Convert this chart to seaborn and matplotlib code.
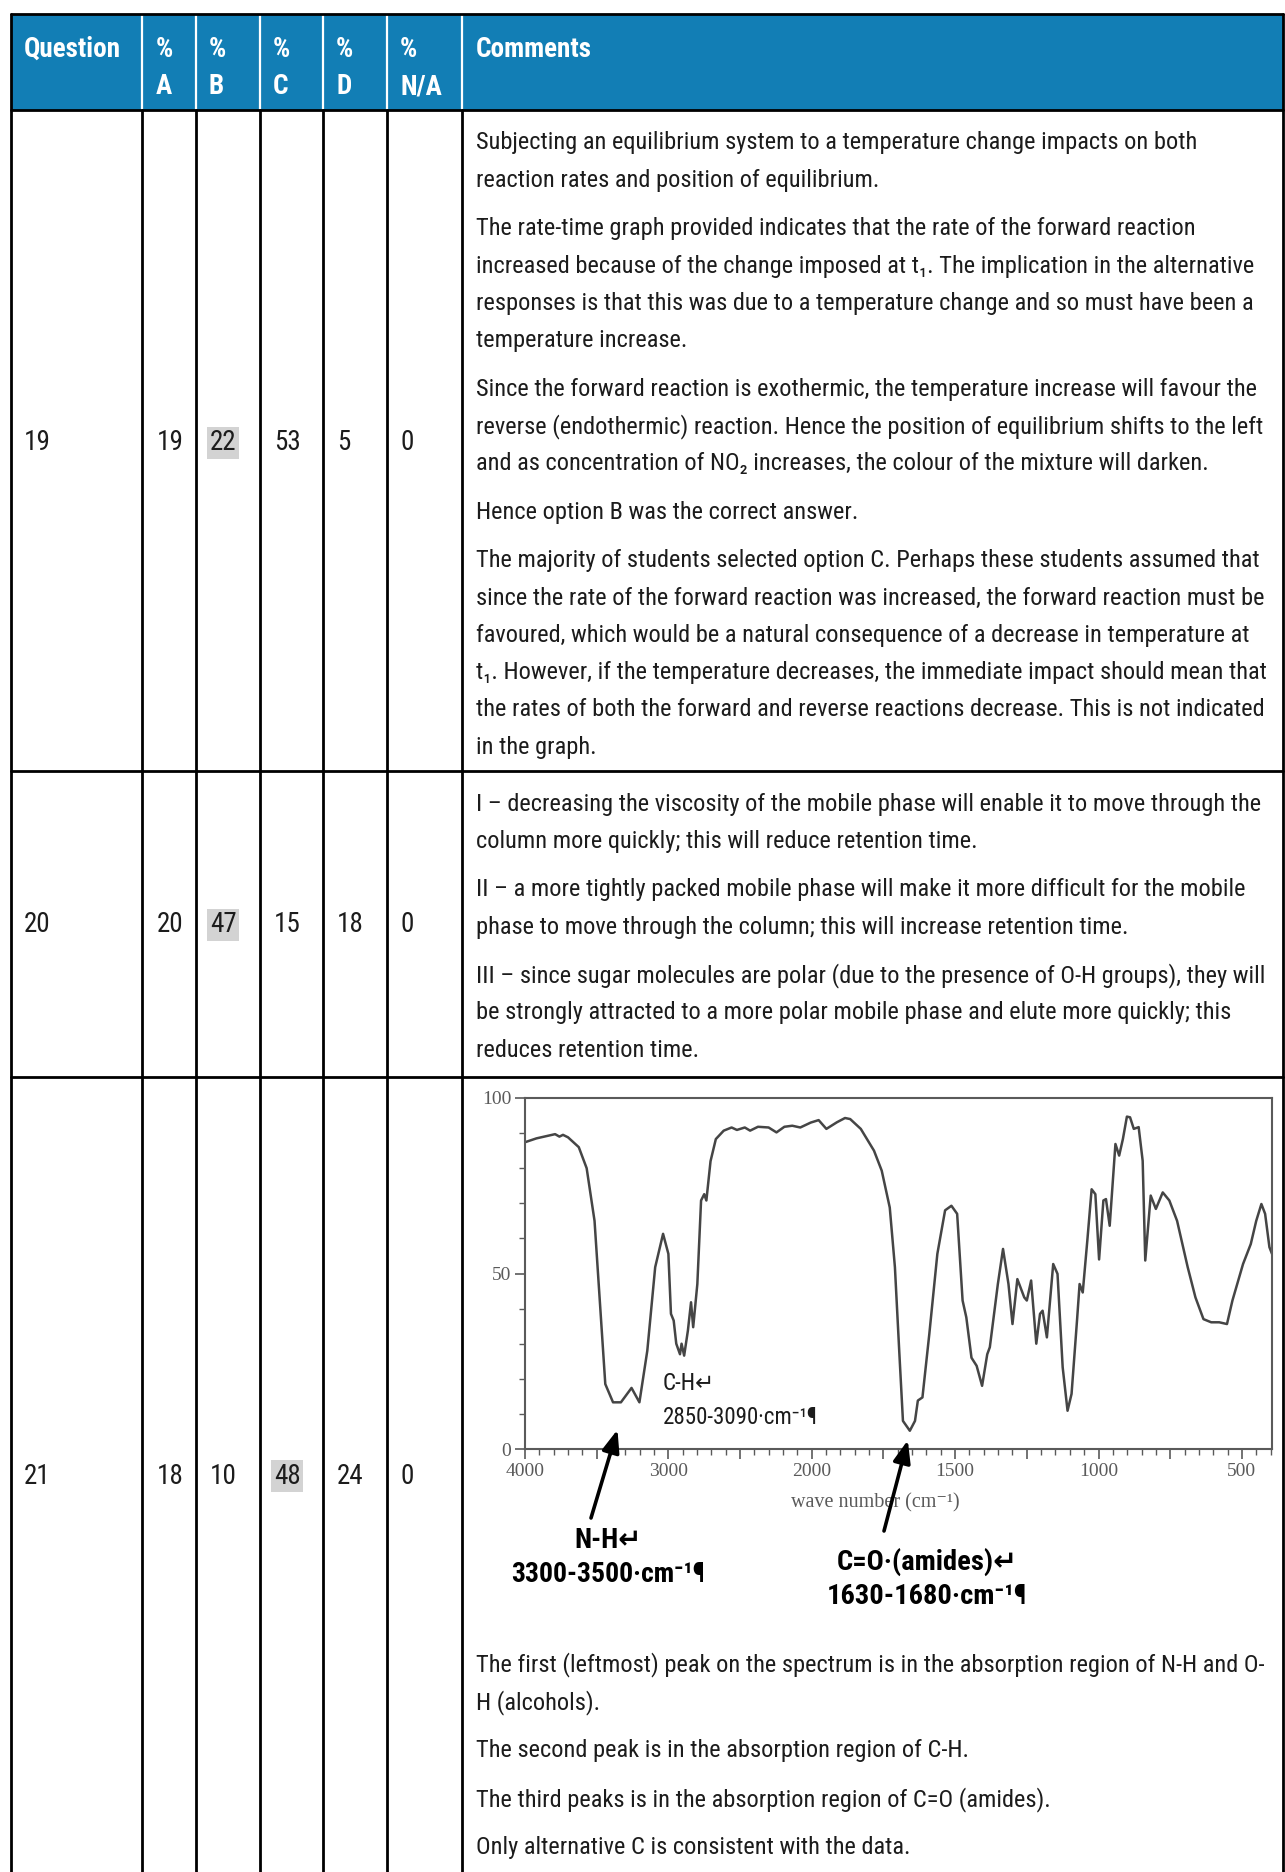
import numpy as np
import pandas as pd
import matplotlib
matplotlib.use("Agg")
import matplotlib.pyplot as plt
import seaborn as sns
from matplotlib.patches import Rectangle

##############################
# data
##############################

questions = ["19", "20", "21"]
pct_a = [19, 20, 18]
pct_b = [22, 47, 10]
pct_c = [53, 15, 48]
pct_d = [5, 18, 24]
pct_na = [0, 0, 0]
correct = ["B", "B", "C"]

header_top = ["Question", "%", "%", "%", "%", "%", "Comments"]
header_bot = ["", "A", "B", "C", "D", "N/A", ""]

comments_19 = [
    ["Subjecting an equilibrium system to a temperature change impacts on both",
     "reaction rates and position of equilibrium."],
    ["The rate-time graph provided indicates that the rate of the forward reaction",
     "increased because of the change imposed at t\u2081. The implication in the alternative",
     "responses is that this was due to a temperature change and so must have been a",
     "temperature increase."],
    ["Since the forward reaction is exothermic, the temperature increase will favour the",
     "reverse (endothermic) reaction. Hence the position of equilibrium shifts to the left",
     "and as concentration of NO\u2082 increases, the colour of the mixture will darken."],
    ["Hence option B was the correct answer."],
    ["The majority of students selected option C. Perhaps these students assumed that",
     "since the rate of the forward reaction was increased, the forward reaction must be",
     "favoured, which would be a natural consequence of a decrease in temperature at",
     "t\u2081. However, if the temperature decreases, the immediate impact should mean that",
     "the rates of both the forward and reverse reactions decrease. This is not indicated",
     "in the graph."],
]

comments_20 = [
    ["I \u2013 decreasing the viscosity of the mobile phase will enable it to move through the",
     "column more quickly; this will reduce retention time."],
    ["II \u2013 a more tightly packed mobile phase will make it more difficult for the mobile",
     "phase to move through the column; this will increase retention time."],
    ["III \u2013 since sugar molecules are polar (due to the presence of O-H groups), they will",
     "be strongly attracted to a more polar mobile phase and elute more quickly; this",
     "reduces retention time."],
]

comments_21 = [
    ["The first (leftmost) peak on the spectrum is in the absorption region of N-H and O-",
     "H (alcohols)."],
    ["The second peak is in the absorption region of C-H."],
    ["The third peaks is in the absorption region of C=O (amides)."],
    ["Only alternative C is consistent with the data."],
]

# IR spectrum
wavenumber = [4000, 3920, 3790, 3760, 3735, 3700, 3625, 3570, 3515, 3478,
              3440, 3386, 3331, 3257, 3202, 3147, 3092, 3037, 3000, 2982,
              2963, 2945, 2919, 2908, 2890, 2864, 2842, 2827, 2798, 2772,
              2750, 2735, 2706, 2669, 2614, 2559, 2522, 2467, 2430, 2375,
              2301, 2246, 2191, 2136, 2080, 2007, 1976, 1949, 1912, 1884,
              1866, 1829, 1783, 1756, 1728, 1710, 1695, 1682, 1658, 1640,
              1630, 1614, 1590, 1562, 1535, 1513, 1493, 1474, 1461, 1443,
              1425, 1406, 1388, 1379, 1351, 1333, 1314, 1300, 1283, 1259,
              1250, 1235, 1217, 1204, 1195, 1180, 1158, 1143, 1125, 1108,
              1094, 1075, 1066, 1055, 1039, 1024, 1011, 998, 983, 974,
              961, 941, 928, 915, 901, 890, 877, 860, 846, 837,
              818, 800, 776, 753, 726, 689, 662, 634, 607, 579,
              552, 533, 496, 469, 450, 432, 419, 404, 395]
transmittance = [87.4, 88.5, 89.7, 89.0, 89.5, 88.8, 86.0, 80.0, 65.0, 42.0,
                 18.5, 13.3, 13.3, 17.4, 13.3, 28.0, 51.8, 61.3, 55.6, 38.5,
                 36.6, 30.0, 27.0, 30.0, 26.6, 33.7, 41.8, 34.7, 47.0, 70.8,
                 72.6, 70.8, 82.0, 88.3, 90.7, 91.6, 90.9, 91.6, 90.7, 91.8,
                 91.6, 90.2, 91.8, 92.1, 91.6, 93.0, 93.7, 91.2, 93.1, 94.3,
                 94.0, 91.2, 85.0, 79.3, 68.8, 51.8, 28.0, 8.0, 5.2, 8.0,
                 13.8, 14.7, 32.8, 55.6, 68.0, 69.3, 67.0, 42.3, 37.5, 26.0,
                 23.7, 18.0, 27.0, 29.0, 47.0, 57.0, 47.0, 35.6, 48.4, 43.2,
                 42.3, 48.0, 30.0, 38.5, 39.4, 31.8, 52.7, 49.9, 23.3, 10.9,
                 15.7, 36.6, 47.0, 44.6, 59.4, 74.0, 72.6, 54.0, 70.8, 71.2,
                 63.6, 86.9, 83.6, 88.3, 94.7, 94.5, 91.2, 91.7, 82.1, 53.7,
                 72.2, 68.4, 73.1, 70.8, 65.0, 51.8, 43.2, 37.0, 36.1, 36.1,
                 35.6, 42.3, 52.7, 58.4, 65.0, 69.8, 67.0, 57.5, 55.6]

xtick_major = [4000, 3500, 3000, 2500, 2000, 1750, 1500, 1250, 1000, 750, 500]
xtick_labels = ["4000", "", "3000", "", "2000", "", "1500", "", "1000", "", "500"]

##############################
# style
##############################

sns.set_theme(style="white")
SANS = ["Roboto Condensed", "DejaVu Sans"]
SERIF = ["Liberation Serif", "DejaVu Serif"]
plt.rcParams["font.family"] = SANS

W, H = 1285, 1872
BLUE = "#127eb5"
INK = "#1c1c1c"
GREY = "#5a5a5a"
FS_HEAD = 19.5   # header + question / percentage cells
FS_BODY = 17.6   # comment text

col_x = [11, 142, 196, 260, 323, 387, 462, 1283]
row_y = [14, 110, 771, 1077, H + 5]
text_x = [24, 156, 209, 273, 336, 400, 476]
value_y = [443, 925, 1476]

fig = plt.figure(figsize=(W / 100, H / 100), dpi=100)
ov = fig.add_axes([0, 0, 1, 1])
ov.set_xlim(0, W)
ov.set_ylim(H, 0)
ov.axis("off")

# header band
ov.add_patch(Rectangle((col_x[0], row_y[0]), col_x[-1] - col_x[0], row_y[1] - row_y[0],
                       fc=BLUE, ec="none", zorder=1))
for x in col_x[1:-1]:
    ov.plot([x, x], [row_y[0], row_y[1]], color="white", lw=1.6, zorder=2)
for i, (t, b) in enumerate(zip(header_top, header_bot)):
    ov.text(text_x[i], 49.5, t, color="white", fontsize=FS_HEAD, fontweight="bold",
            ha="left", va="center", zorder=3)
    if b:
        ov.text(text_x[i], 86.5, b, color="white", fontsize=FS_HEAD, fontweight="bold",
                ha="left", va="center", zorder=3)

# grid lines
lw_b = 2.0
ov.plot([col_x[0], col_x[-1]], [row_y[0], row_y[0]], color="black", lw=lw_b, zorder=4)
for y in row_y[1:-1]:
    ov.plot([col_x[0], col_x[-1]], [y, y], color="black", lw=lw_b, zorder=4)
ov.plot([col_x[0], col_x[0]], [row_y[0], H], color="black", lw=lw_b, zorder=4)
ov.plot([col_x[-1], col_x[-1]], [row_y[0], H], color="black", lw=lw_b, zorder=4)
for x in col_x[1:-1]:
    ov.plot([x, x], [row_y[1], H], color="black", lw=lw_b, zorder=4)

# values
letters = ["A", "B", "C", "D", "N/A"]
for r, q in enumerate(questions):
    vals = [pct_a[r], pct_b[r], pct_c[r], pct_d[r], pct_na[r]]
    ov.text(text_x[0], value_y[r], q, color=INK, fontsize=FS_HEAD, ha="left", va="center")
    for j, v in enumerate(vals):
        box = None
        if letters[j] == correct[r]:
            box = dict(boxstyle="square,pad=0.1", fc="#d3d3d3", ec="none")
        ov.text(text_x[j + 1] + 1, value_y[r], str(v), color=INK, fontsize=FS_HEAD,
                ha="left", va="center", bbox=box)


def draw_paragraphs(paras, y0, step=37.3, gap=11.2):
    y = y0
    for p in paras:
        for line in p:
            ov.text(text_x[6], y, line, color=INK, fontsize=FS_BODY, ha="left", va="center")
            y += step
        y += gap


draw_paragraphs(comments_19, 143)
draw_paragraphs(comments_20, 804)
draw_paragraphs(comments_21, 1665)

##############################
# IR spectrum
##############################

sp_l, sp_r, sp_t, sp_b = 525, 1272, 1098, 1449
sp = fig.add_axes([sp_l / W, 1 - sp_b / H, (sp_r - sp_l) / W, (sp_b - sp_t) / H])
sp.set_zorder(5)
sp.patch.set_alpha(0)

spec = pd.DataFrame({"wavenumber": wavenumber, "T": transmittance})
sns.lineplot(data=spec, x="wavenumber", y="T", ax=sp, sort=False,
             color="#454545", lw=1.8)


def fwd(w):
    w = np.asarray(w, dtype=float)
    return np.where(w >= 2000, w / 1000.0, w / 500.0 - 2.0)


def inv(u):
    u = np.asarray(u, dtype=float)
    return np.where(u >= 2, u * 1000.0, (u + 2.0) * 500.0)


sp.set_xscale("function", functions=(fwd, inv))
sp.set_xlim(4000, 395)
sp.set_ylim(0, 100)

minor_x = list(range(4000, 2000, -100)) + list(range(2000, 399, -50))
sp.set_xticks(xtick_major)
sp.set_xticklabels(xtick_labels)
sp.set_xticks(minor_x, minor=True)
sp.set_yticks([0, 50, 100])
sp.set_yticks(list(range(0, 101, 10)), minor=True)
sp.tick_params(axis="both", which="major", direction="out", length=7, width=1.2,
               color=GREY, labelcolor=GREY, labelsize=14, pad=3)
sp.tick_params(axis="both", which="minor", direction="out", length=4, width=1.0,
               color=GREY)
sp.tick_params(bottom=True, left=True, which="both")
for lab in sp.get_xticklabels() + sp.get_yticklabels():
    lab.set_fontfamily(SERIF)
for s in sp.spines.values():
    s.set_color(GREY)
    s.set_linewidth(1.5)

sp.set_xlabel("wave number (cm\u207b\u00b9)", fontfamily=SERIF, fontsize=14.5,
              color=GREY)
sp.xaxis.set_label_coords(0.469, -0.125)
sp.set_ylabel("")

# band labels
sp.text(663, 1384, "C-H\u21b5", transform=ov.transData, fontsize=16.6, color=INK,
        ha="left", va="center", family=SANS)
sp.text(663, 1417, "2850-3090\u00b7cm\u207b\u00b9\u00b6", transform=ov.transData,
        fontsize=16.6, color=INK, ha="left", va="center", family=SANS)

ov.text(608, 1541, "N-H\u21b5", fontsize=20, fontweight="bold", color="black",
        ha="center", va="center")
ov.text(608, 1574, "3300-3500\u00b7cm\u207b\u00b9\u00b6", fontsize=20,
        fontweight="bold", color="black", ha="center", va="center")
ov.text(927, 1562, "C=O\u00b7(amides)\u21b5", fontsize=20.5, fontweight="bold",
        color="black", ha="center", va="center")
ov.text(927, 1596, "1630-1680\u00b7cm\u207b\u00b9\u00b6", fontsize=20.5,
        fontweight="bold", color="black", ha="center", va="center")

arrow = dict(arrowstyle="-|>,head_length=0.9,head_width=0.35", color="black",
             lw=2.6, mutation_scale=15, shrinkA=0, shrinkB=0)
sp.annotate("", xy=(3355, 5.5), xytext=(591, 1518), textcoords=ov.transData,
            arrowprops=arrow, annotation_clip=False)
sp.annotate("", xy=(1665, 2.5), xytext=(884, 1531), textcoords=ov.transData,
            arrowprops=arrow, annotation_clip=False)

fig.savefig("out.png", dpi=100)
